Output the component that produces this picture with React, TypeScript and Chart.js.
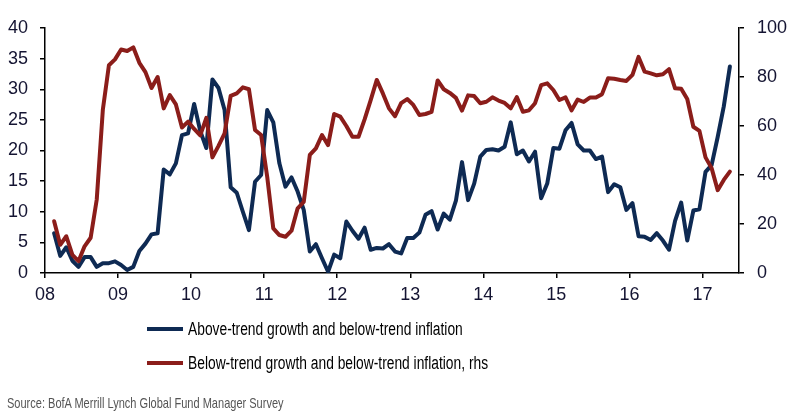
import React, { useEffect, useRef } from "react";
import { Chart, registerables } from "chart.js";

Chart.register(...registerables);

// Monthly survey readings, Feb 2008 .. May 2017
const FIRST_MONTH_INDEX = 1; // Feb 2008 (Jan 2008 = 0)
const TOTAL_MONTHS = 114; // Jan 2008 .. Jun 2017 axis span

const yearLabels = ["08", "09", "10", "11", "12", "13", "14", "15", "16", "17"];

const aboveTrend = [
  6.5, 2.8, 4.2, 2.0, 1.0, 2.6, 2.6, 1.0, 1.6, 1.6, 1.9, 1.3,
  0.5, 1.0, 3.6, 4.8, 6.3, 6.5, 16.9, 16.1, 17.9, 22.5, 22.8, 27.6,
  23.2, 20.4, 31.6, 30.2, 26.6, 14.0, 13.1, 10.0, 7.0, 14.9, 16.0, 26.6,
  24.6, 17.9, 14.1, 15.6, 13.3, 10.3, 3.5, 4.7, 2.4, 0.2, 3.0, 2.4,
  8.4, 6.9, 5.6, 7.4, 3.8, 4.1, 4.0, 4.7, 3.5, 3.2, 5.7, 5.7,
  6.6, 9.5, 10.1, 7.1, 9.7, 8.7, 11.8, 18.1, 11.9, 14.6, 19.0, 20.1,
  20.2, 20.0, 20.6, 24.6, 19.4, 20.0, 18.2, 19.8, 12.2, 14.6, 20.4, 20.3,
  23.3, 24.5, 21.0, 20.0, 20.0, 18.6, 19.0, 13.2, 14.5, 14.0, 10.3, 11.4,
  6.0, 5.9, 5.4, 6.5, 5.3, 3.8, 8.5, 11.5, 5.3, 10.2, 10.4, 16.5,
  17.6, 22.2, 27.2, 33.7,
];

const belowTrend = [
  21.1, 11.5, 15.0, 7.4, 4.8, 10.9, 14.4, 30.0, 66.6, 84.8, 87.2, 91.2,
  90.6, 92.1, 85.8, 82.0, 75.5, 80.0, 67.2, 72.6, 68.8, 59.4, 61.8, 58.8,
  56.2, 63.3, 47.2, 51.9, 57.0, 72.3, 73.3, 75.8, 75.0, 58.4, 56.3, 39.3,
  18.2, 15.5, 14.8, 17.3, 26.4, 29.0, 48.2, 50.9, 56.3, 52.2, 64.9, 63.8,
  60.0, 55.6, 55.6, 62.7, 70.6, 78.8, 73.3, 67.2, 64.0, 69.3, 71.0, 68.6,
  64.5, 64.9, 65.8, 78.6, 75.0, 73.5, 71.5, 66.3, 72.5, 72.2, 69.3, 69.9,
  71.7, 70.4, 69.4, 67.2, 71.8, 65.8, 66.4, 69.3, 76.7, 77.4, 74.7, 70.6,
  71.7, 66.4, 70.8, 69.8, 71.6, 71.6, 73.0, 79.5, 79.3, 78.8, 78.4, 80.9,
  88.2, 82.2, 81.5, 80.7, 81.1, 83.2, 75.4, 75.2, 71.0, 59.7, 58.0, 47.2,
  42.8, 33.8, 38.0, 41.4,
];

const seriesNames = [
  "Above-trend growth and below-trend inflation",
  "Below-trend growth and below-trend inflation, rhs",
];
const sourceText = "Source: BofA Merrill Lynch Global Fund Manager Survey";

const BLUE = "#0e2a53";
const RED = "#8b1d1a";
const FONT = '"Liberation Sans", Arial, sans-serif';
const TICK_COLOR = "#141432";

const toPoints = (arr: number[]) =>
  arr.map((v, i) => ({ x: FIRST_MONTH_INDEX + i + 0.5, y: v }));

export default function App() {
  const canvasRef = useRef<HTMLCanvasElement | null>(null);

  useEffect(() => {
    if (!canvasRef.current) return;
    const tickFont = { family: FONT, size: 18 };
    const tickGrid = {
      display: true,
      drawOnChartArea: false,
      drawTicks: true,
      tickLength: 5,
      color: "#000",
      lineWidth: 1.5,
    };
    const chart = new Chart(canvasRef.current, {
      type: "line",
      data: {
        datasets: [
          {
            label: seriesNames[0],
            data: toPoints(aboveTrend),
            yAxisID: "y",
            borderColor: BLUE,
            backgroundColor: BLUE,
            borderWidth: 4,
            pointRadius: 0,
            tension: 0,
            borderJoinStyle: "round",
            borderCapStyle: "round",
            order: 1,
          },
          {
            label: seriesNames[1],
            data: toPoints(belowTrend),
            yAxisID: "y1",
            borderColor: RED,
            backgroundColor: RED,
            borderWidth: 4,
            pointRadius: 0,
            tension: 0,
            borderJoinStyle: "round",
            borderCapStyle: "round",
            order: 0,
          },
        ],
      },
      options: {
        animation: false,
        responsive: false,
        maintainAspectRatio: false,
        events: [],
        layout: { padding: { left: 0, right: 0, top: 28, bottom: 111 } },
        plugins: { legend: { display: false }, tooltip: { enabled: false } },
        scales: {
          x: {
            type: "linear",
            min: 0,
            max: TOTAL_MONTHS,
            afterBuildTicks: (scale: any) => {
              scale.ticks = yearLabels.map((_, i) => ({ value: i * 12 }));
            },
            afterFit: (scale: any) => {
              scale.height = 30;
            },
            ticks: {
              autoSkip: false,
              maxRotation: 0,
              padding: 6,
              color: TICK_COLOR,
              font: tickFont,
              callback: (v: any) => yearLabels[Math.round(Number(v) / 12)] ?? "",
            },
            grid: tickGrid,
            border: { display: true, color: "#000", width: 1.5 },
          },
          y: {
            type: "linear",
            position: "left",
            min: 0,
            max: 40,
            afterFit: (scale: any) => {
              scale.width = 45;
            },
            ticks: { stepSize: 5, padding: 12, color: TICK_COLOR, font: tickFont },
            grid: tickGrid,
            border: { display: true, color: "#000", width: 1.5 },
          },
          y1: {
            type: "linear",
            position: "right",
            min: 0,
            max: 100,
            afterFit: (scale: any) => {
              scale.width = 56;
            },
            ticks: { stepSize: 20, padding: 13, color: TICK_COLOR, font: tickFont },
            grid: tickGrid,
            border: { display: true, color: "#000", width: 1.5 },
          },
        },
      },
    } as any);
    return () => chart.destroy();
  }, []);

  const legendRow = (color: string, text: string, y: number) => (
    <div
      style={{
        position: "absolute",
        left: 147,
        top: y - 12,
        height: 24,
        display: "flex",
        alignItems: "center",
        whiteSpace: "nowrap",
      }}
    >
      <div style={{ width: 36, height: 4, background: color, marginRight: 5, flex: "none" }} />
      <span
        style={{
          fontFamily: FONT,
          fontSize: 18,
          color: "#000",
          lineHeight: "24px",
          display: "inline-block",
          transform: "scaleX(0.767)",
          transformOrigin: "left center",
        }}
      >
        {text}
      </span>
    </div>
  );

  return (
    <div
      style={{
        position: "fixed",
        left: 0,
        top: 0,
        width: 795,
        height: 414,
        background: "#fff",
        overflow: "hidden",
      }}
    >
      <canvas ref={canvasRef} width={795} height={414} style={{ display: "block", width: 795, height: 414 }} />
      {legendRow(BLUE, seriesNames[0], 329)}
      {legendRow(RED, seriesNames[1], 363)}
      <div
        style={{
          position: "absolute",
          left: 7,
          top: 394,
          fontFamily: FONT,
          fontSize: 15,
          color: "#555",
          whiteSpace: "nowrap",
          lineHeight: "18px",
          transform: "scaleX(0.735)",
          transformOrigin: "left center",
        }}
      >
        {sourceText}
      </div>
    </div>
  );
}
